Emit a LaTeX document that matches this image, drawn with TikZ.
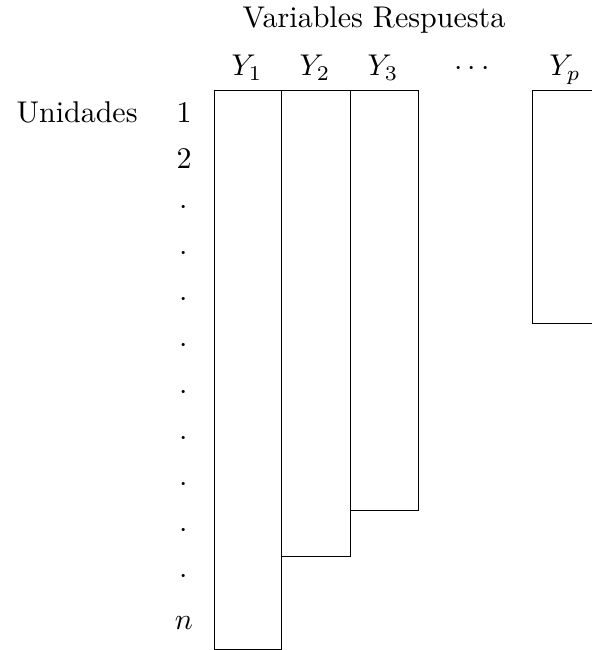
\documentclass[tikz,border=0pt]{standalone}
\begin{document}
\begin{tikzpicture}[x=0.3333pt,y=-0.3333pt,
  box/.style={draw,line width=0.33pt,inner sep=0pt,outer sep=0pt,anchor=north west},
  lab/.style={anchor=base,inner sep=0pt}]
\useasboundingbox (0,0) rectangle (591,650);
\node[lab] (title) at (374,28) {Variables Respuesta};
\node[lab] (y1) at (247,76) {$Y_1$};
\node[lab] (y2) at (315,76) {$Y_2$};
\node[lab] (y3) at (383,76) {$Y_3$};
\node[lab] (ydots) at (472,76) {$\cdots$};
\node[lab] (yp) at (565,76) {$Y_p$};
\node[anchor=base west,inner sep=0pt] (unid) at (16,123) {Unidades};
\node[lab] (r1) at (184,123) {1};
\node[lab] (r2) at (184,169) {2};
\foreach \k in {3,...,11}{
  \node[lab] (r\k) at (184,{123+46*(\k-1)}) {$\cdot$};
}
\node[lab] (r12) at (184,629) {$n$};
\node[box,minimum width=22.33pt,minimum height=186pt] (c1) at (214,91) {};
\node[box,minimum width=23pt,minimum height=155pt] (c2) at (281,91) {};
\node[box,minimum width=22.67pt,minimum height=139.67pt] (c3) at (350,91) {};
\node[box,minimum width=22.67pt,minimum height=77.33pt] (cp) at (532,91) {};
\end{tikzpicture}
\end{document}
